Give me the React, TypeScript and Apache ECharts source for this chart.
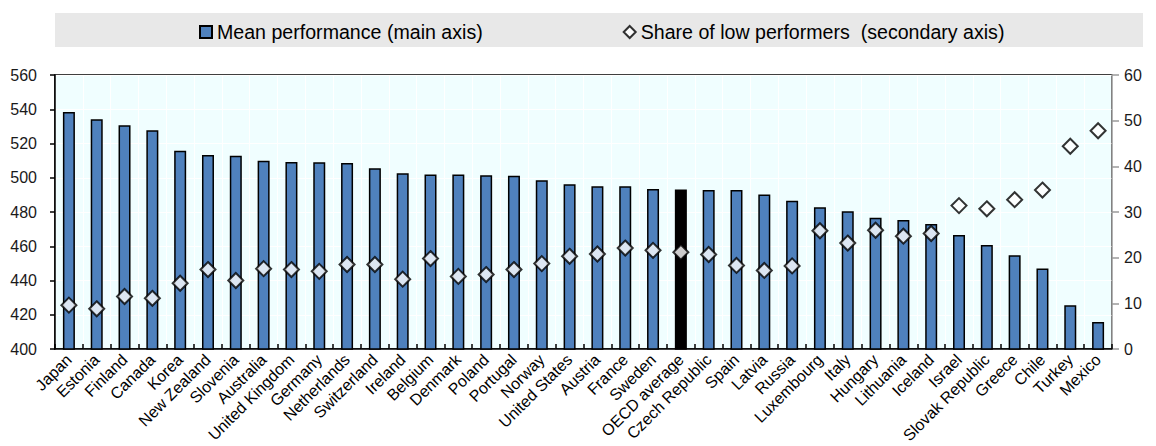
import React, { useEffect, useRef } from "react";
import * as echarts from "echarts";

const categories: string[] = [
  "Japan", "Estonia", "Finland", "Canada", "Korea", "New Zealand", "Slovenia", "Australia",
  "United Kingdom", "Germany", "Netherlands", "Switzerland", "Ireland", "Belgium", "Denmark",
  "Poland", "Portugal", "Norway", "United States", "Austria", "France", "Sweden", "OECD average",
  "Czech Republic", "Spain", "Latvia", "Russia", "Luxembourg", "Italy", "Hungary", "Lithuania",
  "Iceland", "Israel", "Slovak Republic", "Greece", "Chile", "Turkey", "Mexico",
];

const meanPerformance: number[] = [
  538.4, 534.2, 530.7, 527.7, 515.8, 513.3, 512.9, 510.0, 509.2, 509.1, 508.6, 505.5, 502.6,
  501.9, 501.9, 501.4, 501.1, 498.5, 496.2, 495.0, 495.0, 493.4, 493.2, 492.8, 492.8, 490.2,
  486.6, 482.8, 480.5, 476.7, 475.4, 473.0, 466.6, 460.8, 454.8, 447.0, 425.5, 415.7,
];

const lowPerformers: number[] = [
  9.6, 8.8, 11.5, 11.1, 14.4, 17.4, 15.0, 17.6, 17.4, 17.0, 18.5, 18.5, 15.3, 19.8, 15.9,
  16.3, 17.4, 18.7, 20.3, 20.8, 22.1, 21.6, 21.2, 20.7, 18.3, 17.2, 18.2, 25.9, 23.2, 26.0,
  24.7, 25.3, 31.4, 30.7, 32.7, 34.8, 44.4, 47.8,
];

const leftTicks = { min: 400, max: 560, interval: 20 };
const rightTicks = { min: 0, max: 60, interval: 10 };

const highlight = "OECD average";
const FONT = "'Liberation Sans', Arial, sans-serif";

export default function App() {
  const ref = useRef<HTMLDivElement>(null);

  useEffect(() => {
    if (!ref.current) return;
    const chart = echarts.init(ref.current, undefined, { renderer: "svg" });
    const barData = meanPerformance.map((v, i) =>
      categories[i] === highlight ? { value: v, itemStyle: { color: "#000000" } } : v
    );
    chart.setOption({
      animation: false,
      textStyle: { fontFamily: FONT },
      graphic: [
        {
          type: "rect",
          z: 0,
          shape: { x: 55, y: 13, width: 1088, height: 34 },
          style: { fill: "#E8E8E8" },
        },
      ],
      legend: {
        z: 10,
        left: 194,
        top: 17,
        itemGap: 140,
        itemWidth: 12,
        itemHeight: 12,
        textStyle: { fontSize: 19.6, color: "#000", fontFamily: FONT },
        data: [
          { name: "Mean performance (main axis)", icon: "path://M0 0H10V10H0Z" },
          { name: "Share of low performers  (secondary axis)", icon: "diamond" },
        ],
      },
      grid: {
        left: 55,
        right: 44,
        top: 75,
        bottom: 97,
        show: true,
        backgroundColor: "#F0FEFF",
        borderColor: "#000",
        borderWidth: 1.5,
      },
      xAxis: {
        type: "category",
        data: categories,
        boundaryGap: true,
        axisLine: { show: true, lineStyle: { color: "#000", width: 1.5 } },
        axisTick: { show: true, inside: true, length: 5, alignWithLabel: false, lineStyle: { color: "#000", width: 1.5 } },
        splitLine: { show: true, lineStyle: { color: "#FFFFFF", width: 1 } },
        axisLabel: {
          interval: 0,
          rotate: 45,
          margin: 8,
          fontSize: 16,
          color: "#000",
          fontFamily: FONT,
        },
      },
      yAxis: [
        {
          type: "value",
          ...leftTicks,
          position: "left",
          axisLine: { show: true, lineStyle: { color: "#000", width: 1.5 } },
          axisTick: { show: true, length: 5, lineStyle: { color: "#000", width: 1.5 } },
          splitLine: { show: true, lineStyle: { color: "#FFFFFF", width: 1 } },
          axisLabel: { fontSize: 16, color: "#1a1a1a", margin: 18, fontFamily: FONT },
        },
        {
          type: "value",
          ...rightTicks,
          position: "right",
          axisLine: { show: true, lineStyle: { color: "#9A9A9A", width: 1.5 } },
          axisTick: { show: true, length: 7, lineStyle: { color: "#9A9A9A", width: 1.5 } },
          splitLine: { show: false },
          axisLabel: { fontSize: 16, color: "#1a1a1a", margin: 12, fontFamily: FONT },
        },
      ],
      series: [
        {
          name: "Mean performance (main axis)",
          type: "bar",
          yAxisIndex: 0,
          data: barData,
          barWidth: 12,
          itemStyle: { color: "#4F81BD", borderColor: "#000", borderWidth: 1.5 },
          z: 2,
        },
        {
          name: "Share of low performers  (secondary axis)",
          type: "scatter",
          yAxisIndex: 1,
          data: lowPerformers,
          symbol: "diamond",
          symbolSize: 15,
          itemStyle: { color: "#FFFFFF", borderColor: "#000", borderWidth: 2 },
          z: 3,
        },
      ],
    });
    return () => chart.dispose();
  }, []);

  return (
    <div
      ref={ref}
      style={{ position: "fixed", left: 0, top: 0, width: 1156, height: 446, background: "#fff" }}
    />
  );
}
